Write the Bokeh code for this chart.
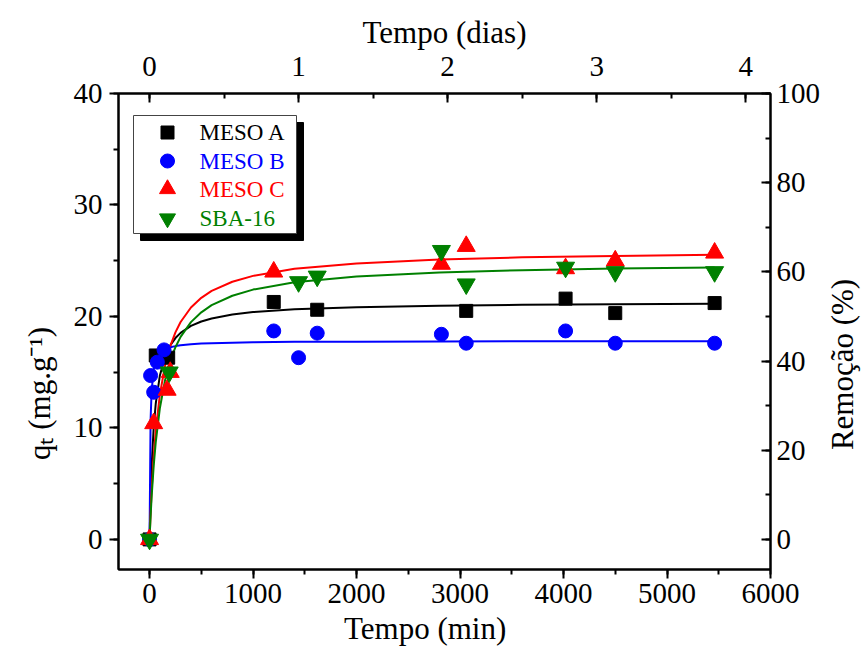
import math
from bokeh.plotting import figure
from bokeh.layouts import row
from bokeh.models import Range1d, LinearAxis, SingleIntervalTicker
from bokeh.embed import file_html
from bokeh.resources import INLINE
from bokeh.core.properties import value

FONT = "Liberation Serif"

# ---------------- data ----------------
series_names = ["MESO A", "MESO B", "MESO C", "SBA-16"]
colors = ["#000000", "#0000FF", "#FF0000", "#008000"]
markers = ["square", "circle", "triangle", "inverted_triangle"]
marker_sizes = [13, 14, 18, 18]

t_meso_a = [0, 60, 180, 1200, 1620, 3060, 4020, 4500, 5460]
q_meso_a = [0, 16.5, 16.3, 21.3, 20.6, 20.5, 21.6, 20.3, 21.2]

t_meso_b = [0, 10, 40, 75, 140, 1200, 1440, 1620, 2820, 3060, 4020, 4500, 5460]
q_meso_b = [0, 14.7, 13.2, 15.9, 17.0, 18.7, 16.3, 18.5, 18.4, 17.6, 18.7, 17.6, 17.6]

t_meso_c = [0, 40, 170, 200, 1200, 2820, 3060, 4020, 4500, 5460]
q_meso_c = [0, 10.4, 13.4, 15.0, 24.0, 24.7, 26.3, 24.3, 25.0, 25.7]

t_sba16 = [0, 190, 1440, 1620, 2820, 3060, 4020, 4500, 5460]
q_sba16 = [0, 15.0, 23.1, 23.6, 25.9, 22.9, 24.4, 24.0, 24.0]

fit_t = [0, 10, 20, 40, 60, 100, 150, 200, 250, 300, 400, 500, 600, 800, 1000,
         1400, 2000, 2800, 3600, 4500, 5460]
fit_meso_a = [0, 3.88, 6.57, 10.04, 12.19, 14.71, 16.40, 17.40, 18.06, 18.53, 19.15,
              19.55, 19.82, 20.17, 20.39, 20.64, 20.83, 20.96, 21.04, 21.09, 21.13]
fit_meso_b = [0, 10.68, 13.35, 15.26, 16.02, 16.69, 17.04, 17.23, 17.34, 17.41, 17.51,
              17.57, 17.60, 17.65, 17.68, 17.72, 17.74, 17.76, 17.77, 17.77, 17.78]
fit_meso_c = [0, 2.36, 4.33, 7.43, 9.75, 13.0, 15.6, 17.33, 18.57, 19.5, 20.8,
              21.67, 22.29, 23.11, 23.64, 24.27, 24.76, 25.10, 25.30, 25.43, 25.53]
fit_sba16 = [0, 2.06, 3.80, 6.59, 8.73, 11.79, 14.30, 16.01, 17.24, 18.17, 19.49,
             20.37, 21.01, 21.86, 22.41, 23.07, 23.59, 23.95, 24.15, 24.30, 24.40]

x_ticks_interval = 1000
y_ticks_interval = 10
days_interval = 1
pct_interval = 20
MIN_PER_DAY = 1440
PCT_PER_Q = 2.5

x_lo, x_hi = -300, 6000
y_lo, y_hi = -2.7, 40

x_title = "Tempo (min)"
x2_title = "Tempo (dias)"
y_title = "qₜ (mg.g⁻¹)"
y2_title = "Remoção (%)"

# ---------------- main figure ----------------
W, H = 823, 657
BL, BR, BT, BB = 118, 53, 93, 88
FW, FH = W - BL - BR, H - BT - BB

p = figure(width=W, height=H, output_backend="svg", toolbar_location=None,
           x_range=Range1d(x_lo, x_hi), y_range=Range1d(y_lo, y_hi),
           min_border_left=BL, min_border_right=BR, min_border_top=BT,
           min_border_bottom=BB, background_fill_color="white",
           border_fill_color="white")
p.grid.visible = False
p.outline_line_color = "black"
p.outline_line_width = 2

p.extra_x_ranges = {"days": Range1d(x_lo / MIN_PER_DAY, x_hi / MIN_PER_DAY)}
p.extra_y_ranges = {"pct": Range1d(y_lo * PCT_PER_Q, y_hi * PCT_PER_Q)}

NB = "\u00a0"


def style(ax, inward, standoff, label, label_standoff):
    ax.axis_line_width = 2
    ax.axis_line_color = "black"
    ax.major_tick_line_width = 2
    ax.minor_tick_line_width = 2
    ax.major_tick_line_color = "black"
    ax.minor_tick_line_color = "black"
    if inward:
        ax.major_tick_in, ax.major_tick_out = 9, 0
        ax.minor_tick_in, ax.minor_tick_out = 5, 0
    else:
        ax.major_tick_in, ax.major_tick_out = 0, 9
        ax.minor_tick_in, ax.minor_tick_out = 0, 5
    ax.major_label_text_font = FONT
    ax.major_label_text_font_size = "29px"
    ax.major_label_text_color = "black"
    ax.major_label_standoff = standoff
    if label:
        ax.axis_label = label
        ax.axis_label_text_font = FONT
        ax.axis_label_text_font_size = "31px"
        ax.axis_label_text_font_style = "normal"
        ax.axis_label_text_color = "black"
        ax.axis_label_standoff = label_standoff


xb = p.xaxis[0]
xb.ticker = SingleIntervalTicker(interval=x_ticks_interval, num_minor_ticks=2)
style(xb, False, 5, x_title + NB * 5, 5)
yl = p.yaxis[0]
yl.ticker = SingleIntervalTicker(interval=y_ticks_interval, num_minor_ticks=2)
style(yl, False, 7, y_title + NB * 16, 14)

xt = LinearAxis(x_range_name="days",
                ticker=SingleIntervalTicker(interval=days_interval, num_minor_ticks=2))
style(xt, True, 18, x2_title, 4)
p.add_layout(xt, "above")

yr = LinearAxis(y_range_name="pct",
                ticker=SingleIntervalTicker(interval=pct_interval, num_minor_ticks=2))
style(yr, True, 6, None, 0)
p.add_layout(yr, "right")


# px (from frame left/top) -> data helpers for legend layout only
def dx(px):
    return x_lo + px / FW * (x_hi - x_lo)


def dy(py):
    return y_hi - py / FH * (y_hi - y_lo)


# fitted curves
fits = [fit_meso_a, fit_meso_b, fit_meso_c, fit_sba16]
for f, c in zip(fits, colors):
    p.line(fit_t, f, line_color=c, line_width=2)

# data points
ts = [t_meso_a, t_meso_b, t_meso_c, t_sba16]
qs = [q_meso_a, q_meso_b, q_meso_c, q_sba16]
for t, q, c, m, s in zip(ts, qs, colors, markers, marker_sizes):
    p.scatter(t, q, marker=m, size=s, fill_color=c, line_color=c)

# legend (drawn manually with shadow)
bx0, bx1, by0, by1 = 15, 178, 22, 140
sh = 7
p.quad(left=dx(bx0 + sh), right=dx(bx1 + sh), top=dy(by0 + sh), bottom=dy(by1 + sh),
       fill_color="black", line_color="black")
p.quad(left=dx(bx0), right=dx(bx1), top=dy(by0), bottom=dy(by1),
       fill_color="white", line_color="#444444", line_width=1)
rows = [39, 67.5, 95.5, 125]
leg_sizes = [13, 14, 16, 16]
for name, c, m, s, r in zip(series_names, colors, markers, leg_sizes, rows):
    p.scatter([dx(49)], [dy(r)], marker=m, size=s, fill_color=c, line_color=c)
    p.text([dx(81)], [dy(r)], text=[name], text_color=c, text_font=value(FONT),
           text_font_size="23px", text_baseline="middle", text_align="left")

# ---------------- strip holding the right-hand title ----------------
SW = 39
p2 = figure(width=SW, height=H, output_backend="svg", toolbar_location=None,
            x_range=Range1d(0, SW), y_range=Range1d(0, H), min_border=0,
            x_axis_location=None, y_axis_location=None,
            background_fill_color="white", border_fill_color="white")
p2.grid.visible = False
p2.outline_line_color = None
p2.text([19], [H - 374], text=[y2_title], text_color="black", text_font=value(FONT),
        text_font_size="31px", text_align="center", text_baseline="middle",
        angle=math.pi / 2)

layout = row(p, p2, spacing=0)
open("out.html", "w").write(file_html(layout, INLINE))
